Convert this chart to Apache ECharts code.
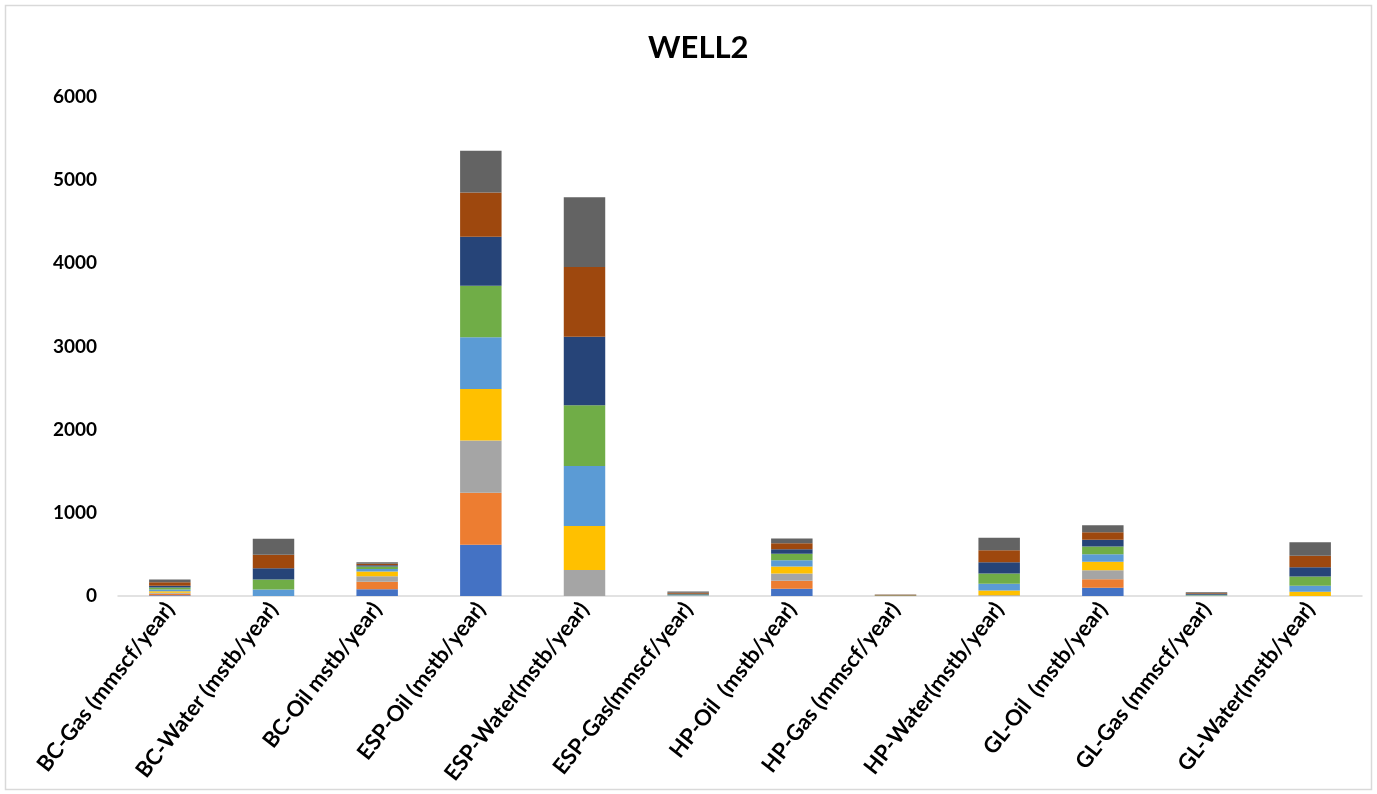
<!DOCTYPE html>
<html>
<head>
<meta charset="utf-8">
<title>WELL2</title>
<script src="https://cdn.jsdelivr.net/npm/echarts@6/dist/echarts.min.js"></script>
<style>
  html, body { margin: 0; padding: 0; background: #ffffff; }
  #chart { width: 1377px; height: 794px; }
</style>
</head>
<body>
<div id="chart"></div>
<script>
// Well production categories (lift method - fluid, unit)
const categories = [
  'BC-Gas (mmscf/year)', 'BC-Water (mstb/year)', 'BC-Oil mstb/year)',
  'ESP-Oil (mstb/year)', 'ESP-Water(mstb/year)', 'ESP-Gas(mmscf/year)',
  'HP-Oil  (mstb/year)', 'HP-Gas (mmscf/year)', 'HP-Water(mstb/year)',
  'GL-Oil  (mstb/year)', 'GL-Gas (mmscf/year)', 'GL-Water(mstb/year)'
];

// Stacked yearly contributions, bottom to top
const period1 = [10, 0, 82, 615, 0, 0, 87, 0, 0, 99, 0, 0];
const period2 = [17, 0, 89, 625, 0, 0, 96, 0, 0, 103, 0, 0];
const period3 = [12, 0, 67, 629, 313, 2, 88, 0, 10, 108, 0, 0];
const period4 = [19, 0, 56, 621, 529, 4, 84, 2, 56, 101, 3, 50];
const period5 = [20, 78, 32, 620, 721, 5, 76, 2, 80, 91, 5, 72];
const period6 = [24, 120, 28, 621, 730, 8, 77, 3, 124, 93, 7, 112];
const period7 = [20, 136, 16, 589, 825, 8, 55, 3, 136, 81, 8, 112];
const period8 = [43, 161, 17, 533, 838, 13, 72, 4, 144, 91, 11, 137];
const period9 = [32, 192, 19, 501, 838, 14, 56, 4, 149, 84, 12, 163];

const seriesNames = ['1', '2', '3', '4', '5', '6', '7', '8', '9'];
const seriesValues = [period1, period2, period3, period4, period5, period6, period7, period8, period9];
const seriesColors = ['#4472C4', '#ED7D31', '#A5A5A5', '#FFC000', '#5B9BD5',
                      '#70AD47', '#264478', '#9E480E', '#636363'];

const yTicks = { min: 0, max: 6000, interval: 1000 };

const chart = echarts.init(document.getElementById('chart'), null, { renderer: 'canvas' });

const fontFamily = 'Lato, "Open Sans", "DejaVu Sans", sans-serif';

chart.setOption({
  animation: false,
  backgroundColor: '#ffffff',
  title: {
    text: 'WELL2',
    left: 643,
    top: 27,
    textStyle: { fontFamily, fontWeight: 'bold', fontSize: 31, color: '#000000' }
  },
  graphic: [{
    type: 'rect',
    shape: { x: 5.5, y: 5.5, width: 1366, height: 784 },
    style: { fill: 'none', stroke: '#D9D9D9', lineWidth: 1.5 },
    silent: true
  }],
  grid: { left: 118, right: 15, top: 97, bottom: 198 },
  xAxis: {
    type: 'category',
    data: categories,
    axisLine: { show: true, lineStyle: { color: '#D9D9D9', width: 1.5 } },
    axisTick: { show: false },
    axisLabel: {
      interval: 0,
      rotate: 52,
      margin: 9,
      fontFamily,
      fontWeight: 'bold',
      fontSize: 22,
      color: '#000000'
    }
  },
  yAxis: {
    type: 'value',
    min: yTicks.min,
    max: yTicks.max,
    interval: yTicks.interval,
    axisLine: { show: false },
    axisTick: { show: false },
    splitLine: { show: false },
    axisLabel: {
      margin: 21,
      fontFamily,
      fontWeight: 'bold',
      fontSize: 19,
      color: '#000000',
      formatter: (v) => String(v)
    }
  },
  series: seriesValues.map((vals, i) => ({
    name: seriesNames[i],
    type: 'bar',
    stack: 'total',
    barWidth: '40%',
    data: vals,
    itemStyle: { color: seriesColors[i] }
  }))
});
</script>
</body>
</html>
